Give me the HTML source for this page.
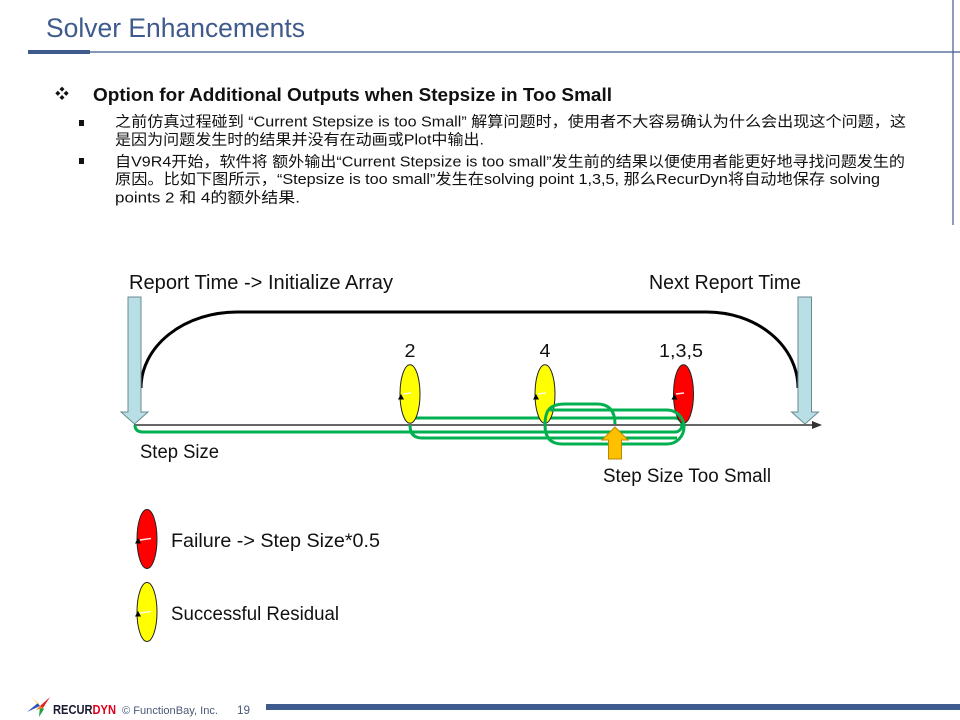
<!DOCTYPE html>
<html><head><meta charset="utf-8"><style>
html,body{margin:0;padding:0;background:#fff;width:960px;height:720px;overflow:hidden}
svg{display:block}
text{font-family:"Liberation Sans","Noto Sans CJK SC",sans-serif}
</style></head><body>
<svg width="960" height="720" viewBox="0 0 960 720" xmlns="http://www.w3.org/2000/svg">
<rect width="960" height="720" fill="#fff"/>
<!-- header -->
<text x="46" y="37" font-size="26.5" fill="#3f5a8c" textLength="259" lengthAdjust="spacingAndGlyphs">Solver Enhancements</text>
<rect x="28" y="50" width="62" height="4" fill="#3f5a8c"/>
<line x1="90" y1="52" x2="960" y2="52" stroke="#3f5a8c" stroke-width="1.2"/>
<line x1="953" y1="0" x2="953" y2="225" stroke="#3f5a8c" stroke-width="1.2"/>

<!-- heading -->
<text x="55" y="99" font-size="14" fill="#111" font-family="DejaVu Sans, sans-serif">❖</text>
<text x="93" y="101" font-size="18" font-weight="bold" fill="#111" textLength="519" lengthAdjust="spacingAndGlyphs">Option for Additional Outputs when Stepsize in Too Small</text>

<!-- bullets -->
<rect x="79" y="120" width="5" height="6" fill="#111"/>
<rect x="79" y="158" width="5" height="6" fill="#111"/>
<text x="115" y="126.5" font-size="15" fill="#111" textLength="791" lengthAdjust="spacingAndGlyphs">之前仿真过程碰到 “Current Stepsize is too Small” 解算问题时，使用者不大容易确认为什么会出现这个问题，这</text>
<text x="115" y="144.5" font-size="15" fill="#111" textLength="369" lengthAdjust="spacingAndGlyphs">是因为问题发生时的结果并没有在动画或Plot中输出.</text>
<text x="115" y="166.4" font-size="15" fill="#111" textLength="790" lengthAdjust="spacingAndGlyphs">自V9R4开始，软件将 额外输出“Current Stepsize is too small”发生前的结果以便使用者能更好地寻找问题发生的</text>
<text x="115" y="184" font-size="15" fill="#111" textLength="765" lengthAdjust="spacingAndGlyphs">原因。比如下图所示，“Stepsize is too small”发生在solving point 1,3,5, 那么RecurDyn将自动地保存 solving</text>
<text x="115" y="202.4" font-size="15" fill="#111" textLength="185" lengthAdjust="spacingAndGlyphs">points  2 和 4的额外结果.</text>

<!-- diagram labels -->
<text x="129" y="289" font-size="20" fill="#111" textLength="264" lengthAdjust="spacingAndGlyphs">Report Time -&gt; Initialize Array</text>
<text x="649" y="289" font-size="20" fill="#111" textLength="152" lengthAdjust="spacingAndGlyphs">Next Report Time</text>
<text x="404.5" y="357" font-size="18" fill="#111" textLength="11" lengthAdjust="spacingAndGlyphs">2</text>
<text x="539.5" y="357" font-size="18" fill="#111" textLength="11" lengthAdjust="spacingAndGlyphs">4</text>
<text x="659" y="357" font-size="18" fill="#111" textLength="44" lengthAdjust="spacingAndGlyphs">1,3,5</text>
<text x="140" y="458" font-size="19" fill="#111" textLength="79" lengthAdjust="spacingAndGlyphs">Step Size</text>
<text x="603" y="482" font-size="19" fill="#111" textLength="168" lengthAdjust="spacingAndGlyphs">Step Size Too Small</text>
<text x="171" y="547" font-size="19" fill="#111" textLength="209" lengthAdjust="spacingAndGlyphs">Failure -&gt; Step Size*0.5</text>
<text x="171" y="620" font-size="19" fill="#111" textLength="168" lengthAdjust="spacingAndGlyphs">Successful Residual</text>

<!-- black arc -->
<path d="M141,388 A96,76 0 0 1 237,312 L707,312 A91,76 0 0 1 798,388" fill="none" stroke="#000" stroke-width="3"/>

<!-- axis -->
<line x1="134" y1="425" x2="815" y2="425" stroke="#333" stroke-width="1.5"/>
<polygon points="822,425 812,421 812,429" fill="#333"/>

<!-- green lines (under ellipses) -->
<g fill="none" stroke="#00b050" stroke-width="3">
<path d="M135,425 Q135,432 143,432 L675,432 A7,7 0 0 0 675,418 L414,418"/>
<path d="M410,425 Q410,438 422,438 L677,438"/>
</g>

<!-- ellipses -->
<g stroke="#222" stroke-width="1">
<ellipse cx="410" cy="394" rx="10" ry="29.3" fill="#ffff00"/>
<ellipse cx="545" cy="394" rx="10" ry="29.3" fill="#ffff00"/>
<ellipse cx="683.5" cy="394" rx="10" ry="29.3" fill="#ff0000"/>
<ellipse cx="147" cy="539" rx="10" ry="29.5" fill="#ff0000"/>
<ellipse cx="147" cy="612" rx="10" ry="29.5" fill="#ffff00"/>
</g>
<g stroke="#fff" stroke-width="1.5" opacity="0.9">
<line x1="403" y1="394" x2="411" y2="393"/>
<line x1="538" y1="394" x2="546" y2="393"/>
<line x1="676" y1="394" x2="684" y2="393"/>
<line x1="140" y1="540" x2="151" y2="538.5"/>
<line x1="140" y1="613" x2="151" y2="611.5"/>
</g>
<g fill="#000">
<polygon points="401,394 398,399.5 404,399.5"/>
<polygon points="536,394 533,399.5 539,399.5"/>
<polygon points="674.5,394 671.5,399.5 677.5,399.5"/>
<polygon points="138,538 135,543.5 141,543.5"/>
<polygon points="138,611 135,616.5 141,616.5"/>
</g>

<!-- green loops (over ellipses) -->
<g fill="none" stroke="#00b050" stroke-width="3">
<path d="M545,425 C545,410 550,404 565,404 L597,404 C610,404 615,412 615,424"/>
<path d="M550,410 L667,410 A17,17 0 0 1 667,444 L562,444 Q545,444 545,425"/>
</g>

<!-- report arrows -->
<polygon points="128,297 141,297 141,412 148,412 134.5,424 121,412 128,412" fill="#b8dfe5" stroke="#6a8a90" stroke-width="1"/>
<polygon points="798,297 811.5,297 811.5,412 818.5,412 805,424 791.5,412 798,412" fill="#b8dfe5" stroke="#6a8a90" stroke-width="1"/>

<!-- orange arrow -->
<polygon points="615,427 628,440 621.5,440 621.5,459 608.5,459 608.5,440 602,440" fill="#ffc000" stroke="#b88a00" stroke-width="1"/>

<!-- footer -->
<polygon points="40,706 27,712 38,703" fill="#2a4fc0"/>
<polygon points="40,706 50,697 43,708" fill="#e02020"/>
<polygon points="40,706 44,709 39,717" fill="#20a040"/>
<polygon points="38,703 31,697 40,706" fill="#f0c000"/>
<polygon points="40,706 43,708 36,710" fill="#f08020"/>
<text x="53" y="714" font-size="13" font-weight="bold" textLength="63" lengthAdjust="spacingAndGlyphs"><tspan fill="#1a1a30">RECUR</tspan><tspan fill="#e0001a">DYN</tspan></text>
<text x="122" y="714" font-size="11" fill="#4a5878" textLength="96" lengthAdjust="spacingAndGlyphs">© FunctionBay, Inc.</text>
<text x="237" y="714" font-size="12" fill="#4a5878" textLength="13" lengthAdjust="spacingAndGlyphs">19</text>
<rect x="266" y="704" width="694" height="6" fill="#3f5a8c"/>
</svg>
</body></html>
